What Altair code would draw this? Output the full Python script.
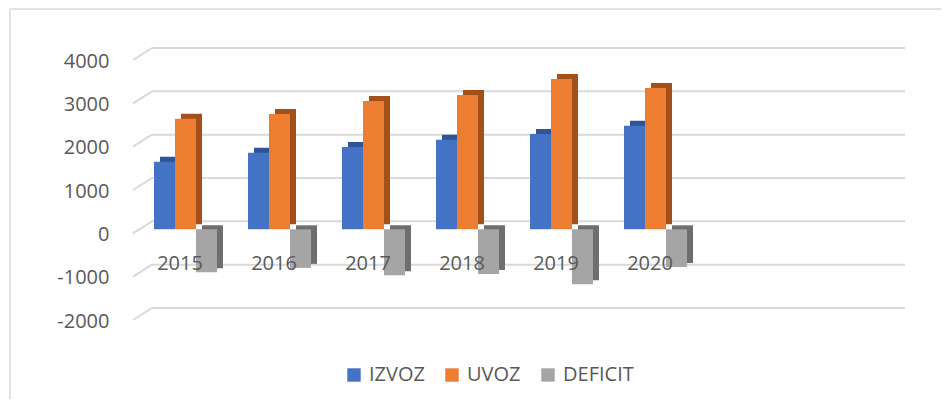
import altair as alt
import pandas as pd

years = ["2015", "2016", "2017", "2018", "2019", "2020"]
izvoz = [1560, 1770, 1900, 2070, 2200, 2390]
uvoz = [2550, 2660, 2960, 3100, 3470, 3260]
deficit = [-990, -890, -1060, -1030, -1270, -870]
series = ["IZVOZ", "UVOZ", "DEFICIT"]
front_colors = ["#4472C4", "#ED7D31", "#A5A5A5"]
side_colors = ["#2F5597", "#A4501B", "#6E6E6E"]
grid_values = [-2000, -1000, 0, 1000, 2000, 3000, 4000]

rows = []
for s, vals in zip(series, [izvoz, uvoz, deficit]):
    for yr, v in zip(years, vals):
        rows.append({"year": yr, "series": s, "value": v})
df = pd.DataFrame(rows)
grid_df = pd.DataFrame({"v": grid_values})
years_df = pd.DataFrame({"year": years})
one_df = pd.DataFrame({"a": [0]})

FONT = "Open Sans"
TXT = "#595959"
GRID = "#D9D9D9"

x_scale = alt.Scale(domain=years, paddingInner=0, paddingOuter=1, align=0)
y_scale = alt.Scale(domain=[-2000, 4000], nice=False, zero=False)

back_grid = alt.Chart(grid_df).mark_rule(color=GRID, strokeWidth=2, yOffset=-8).encode(
    y=alt.Y("v:Q", scale=y_scale, title=None,
            axis=alt.Axis(values=grid_values, grid=False, domain=False, ticks=False,
                          labelPadding=24, labelOffset=5, labelFont=FONT,
                          labelFontSize=20, labelColor=TXT,
                          labelExpr="'' + datum.value")),
    x=alt.value(19),
    x2=alt.value(772),
)
stubs = alt.Chart(grid_df).mark_rule(color=GRID, strokeWidth=2, yOffset=4, y2Offset=-8).encode(
    y=alt.Y("v:Q", scale=y_scale),
    y2=alt.Y2("v:Q"),
    x=alt.value(0),
    x2=alt.value(19),
)

color_enc = alt.Color(
    "series:N",
    scale=alt.Scale(domain=series, range=front_colors),
    legend=alt.Legend(orient="none", legendX=211, legendY=309, direction="horizontal",
                      title=None, symbolType="square", symbolSize=180,
                      symbolStrokeWidth=0, labelFont=FONT, labelFontSize=20,
                      labelColor=TXT, columnPadding=17, labelOffset=5),
)

offsets = [-15.5, 5.5, 26.5]
depths = [5, 5, 4]
bar_layers = []
for s, off, dy, side in zip(series, offsets, depths, side_colors):
    base = alt.Chart(df).transform_filter(alt.datum.series == s)
    enc = dict(
        x=alt.X("year:N", scale=x_scale, axis=None),
        y=alt.Y("value:Q", scale=y_scale, stack=None),
        y2=alt.datum(0),
    )
    shadow = base.mark_bar(width=21, xOffset=off + 6, yOffset=-dy, y2Offset=-dy,
                           color=side).encode(**enc)
    front = base.mark_bar(width=21, xOffset=off).encode(color=color_enc, **enc)
    bar_layers += [shadow, front]

year_labels = alt.Chart(years_df).mark_text(font=FONT, fontSize=20, color=TXT,
                                            baseline="middle").encode(
    x=alt.X("year:N", scale=x_scale, axis=None),
    y=alt.value(208),
    text="year:N",
)

border_left = alt.Chart(one_df).mark_rule(color=GRID, strokeWidth=1.5).encode(
    x=alt.value(-123), y=alt.value(-47), y2=alt.value(351))
border_top = alt.Chart(one_df).mark_rule(color=GRID, strokeWidth=1.5).encode(
    x=alt.value(-123), x2=alt.value(816), y=alt.value(-47))

chart = alt.layer(
    border_left, border_top, back_grid, stubs, *bar_layers, year_labels
).properties(
    width=752, height=260,
    padding={"left": 125, "top": 48, "right": 56, "bottom": 83},
    autosize=alt.AutoSizeParams(type="none"),
).configure_view(stroke=None)

chart.save("out.html", embed_options={"renderer": "svg", "actions": False})
